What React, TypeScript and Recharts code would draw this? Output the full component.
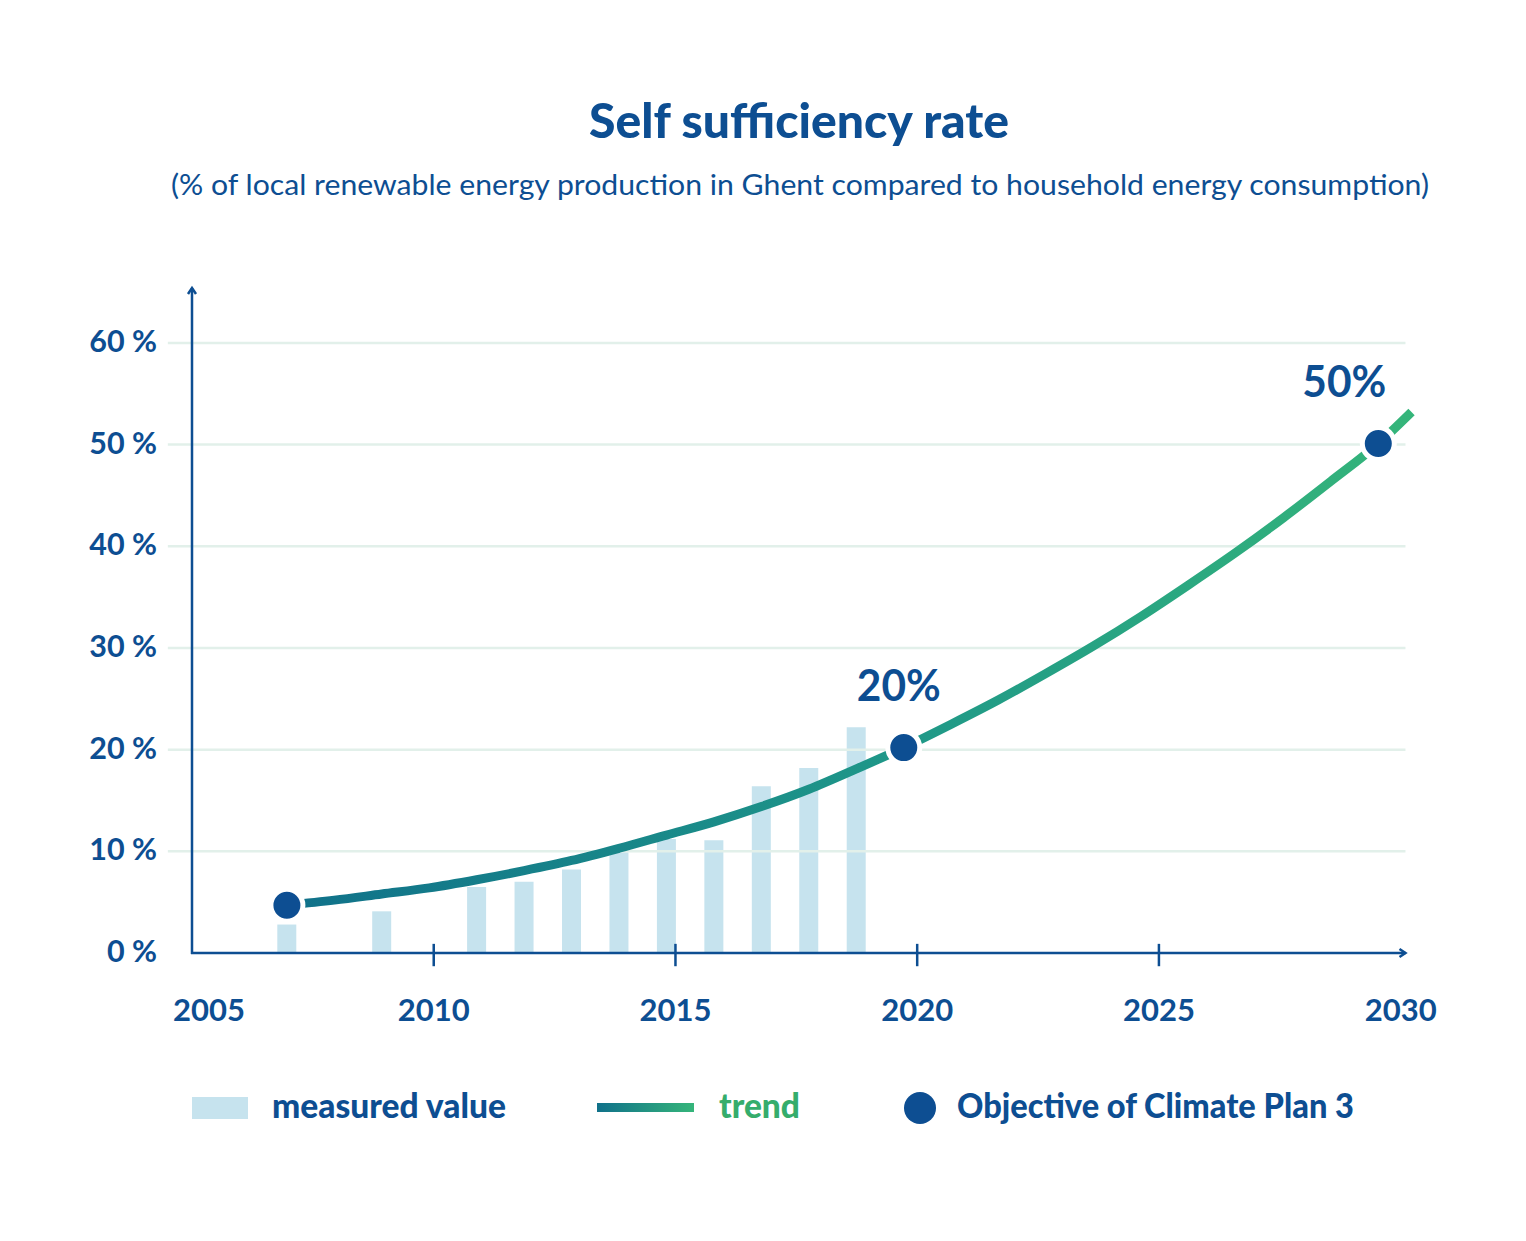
import {
  ComposedChart,
  Bar,
  Line,
  Scatter,
  XAxis,
  YAxis,
  ReferenceLine,
} from "recharts";

const BLUE = "#0d4e92";
const BAR_COLOR = "#c6e3ee";
const GRID_COLOR = "#e2f0ea";
const GREEN = "#35ad6c";
const FONT = "Lato, 'Noto Sans', sans-serif";

const MEASURED_YEARS = [2007, 2009, 2011, 2012, 2013, 2014, 2015, 2016, 2017, 2018, 2019];
const MEASURED_VALUES = [2.8, 4.1, 6.5, 7.0, 8.2, 9.9, 11.2, 11.1, 16.4, 18.2, 22.2];

const TREND_YEARS = [
  2007, 2008, 2009, 2010, 2011, 2012, 2013, 2014, 2015, 2016, 2017, 2018, 2019,
  2020, 2021, 2022, 2023, 2024, 2025, 2026, 2027, 2028, 2029, 2030, 2030.7,
];
const TREND_VALUES = [
  4.7, 5.2, 5.8, 6.4, 7.2, 8.1, 9.1, 10.3, 11.6, 12.9, 14.4, 16.1, 18.1,
  20.2, 22.5, 24.9, 27.5, 30.2, 33.1, 36.2, 39.4, 42.8, 46.4, 50.1, 53.2,
];

const OBJECTIVE_YEARS = [2007, 2020, 2030];
const OBJECTIVE_VALUES = [4.7, 20.2, 50.1];
const OBJECTIVE_LABELS = ["", "20%", "50%"];

const X_TICKS = [2005, 2010, 2015, 2020, 2025, 2030];
const X_TICK_MARKS = [2010, 2015, 2020, 2025];
const Y_TICKS = [0, 10, 20, 30, 40, 50, 60];
const GRID_VALUES = [10, 20, 30, 40, 50, 60];

const measuredData = MEASURED_YEARS.map((year, i) => ({ year, measured: MEASURED_VALUES[i] }));
const trendData = TREND_YEARS.map((year, i) => ({ year, trend: TREND_VALUES[i] }));
const objectiveData = OBJECTIVE_YEARS.map((year, i) => ({
  year,
  objective: OBJECTIVE_VALUES[i],
  label: OBJECTIVE_LABELS[i],
}));

// label nudges for the objective values (the last one sits left of its dot)
const LABEL_DX = [0, -5, -34];

const renderXTick = (props: any) => {
  const { x, y, payload } = props;
  const dx = payload.value === 2005 ? 17 : 0;
  return (
    <text
      x={x + dx}
      y={y + 38}
      textAnchor="middle"
      fill={BLUE}
      fontFamily={FONT}
      fontWeight={700}
      fontSize={31}
    >
      {payload.value}
    </text>
  );
};

const renderYTick = (props: any) => {
  const { x, y, payload } = props;
  return (
    <text
      x={x - 35}
      y={y + 9}
      textAnchor="end"
      fill={BLUE}
      fontFamily={FONT}
      fontWeight={700}
      fontSize={30.5}
    >
      {payload.value} %
    </text>
  );
};

const VArrow = (props: any) => {
  const { x1, y1, x2, y2 } = props;
  const top = Math.min(y1, y2);
  const bottom = Math.max(y1, y2);
  return (
    <g stroke={BLUE} strokeWidth={2.5} fill="none">
      <line x1={x1} y1={bottom + 1} x2={x2} y2={top} />
      <polyline points={`${x1 - 4},${top + 6} ${x1},${top} ${x1 + 4},${top + 6}`} />
    </g>
  );
};

const HArrow = (props: any) => {
  const { x1, y1, x2 } = props;
  const right = Math.max(x1, x2);
  return (
    <g stroke={BLUE} strokeWidth={2.5} fill="none">
      <line x1={Math.min(x1, x2) - 1} y1={y1} x2={right} y2={y1} />
      <polyline points={`${right - 6},${y1 - 4} ${right},${y1} ${right - 6},${y1 + 4}`} />
    </g>
  );
};

const ObjectiveDot = (props: any) => {
  const { cx, cy, payload, index } = props;
  return (
    <g>
      <circle cx={cx} cy={cy} r={16} fill={BLUE} stroke="#fff" strokeWidth={5} />
      {payload.label ? (
        <text
          x={cx + (LABEL_DX[index] ?? 0)}
          y={cy - 47}
          textAnchor="middle"
          fill={BLUE}
          fontFamily={FONT}
          fontWeight={700}
          fontSize={44}
          textLength={84}
          lengthAdjust="spacingAndGlyphs"
        >
          {payload.label}
        </text>
      ) : null}
    </g>
  );
};

export default function App() {
  return (
    <div style={{ position: "absolute", left: 0, top: 0, width: 1526, height: 1241, background: "#fff" }}>
      <svg width={1526} height={1241} style={{ position: "absolute", left: 0, top: 0 }}>
        <defs>
          <linearGradient id="legendGrad" x1="0" y1="0" x2="1" y2="0">
            <stop offset="0%" stopColor="#10718a" />
            <stop offset="100%" stopColor="#35b57a" />
          </linearGradient>
        </defs>
        <text
          x={799}
          y={138}
          textAnchor="middle"
          fill={BLUE}
          fontFamily={FONT}
          fontWeight={900}
          fontSize={48}
          textLength={420}
          lengthAdjust="spacingAndGlyphs"
        >
          Self sufficiency rate
        </text>
        <text
          x={800}
          y={195}
          textAnchor="middle"
          fill={BLUE}
          fontFamily={FONT}
          fontSize={28}
          textLength={1258}
          lengthAdjust="spacingAndGlyphs"
        >
          (% of local renewable energy production in Ghent compared to household energy consumption)
        </text>

        <rect x={192} y={1097} width={56} height={22} fill={BAR_COLOR} />
        <text x={272} y={1118} fill={BLUE} fontFamily={FONT} fontWeight={900} fontSize={34}
          textLength={234} lengthAdjust="spacingAndGlyphs">
          measured value
        </text>
        <rect x={597} y={1103} width={97} height={9} fill="url(#legendGrad)" />
        <text x={719} y={1118} fill={GREEN} fontFamily={FONT} fontWeight={900} fontSize={34}
          textLength={81} lengthAdjust="spacingAndGlyphs">
          trend
        </text>
        <circle cx={920} cy={1108} r={16} fill={BLUE} />
        <text x={957} y={1118} fill={BLUE} fontFamily={FONT} fontWeight={900} fontSize={34}
          textLength={397} lengthAdjust="spacingAndGlyphs">
          Objective of Climate Plan 3
        </text>
      </svg>

      <div style={{ position: "absolute", left: 0, top: 0 }}>
        <ComposedChart
          width={1526}
          height={1241}
          data={measuredData}
          margin={{ top: 288, right: 77, bottom: 228, left: 132 }}
        >
          <defs>
            <linearGradient id="trendGrad" x1="0" y1="0" x2="1" y2="0">
              <stop offset="0%" stopColor="#10718a" />
              <stop offset="55%" stopColor="#1f9888" />
              <stop offset="100%" stopColor="#35b57a" />
            </linearGradient>
          </defs>
          {/* the data layer of the original runs on a slightly tighter year scale than its labelled axis */}
          <XAxis
            xAxisId="data"
            dataKey="year"
            type="number"
            domain={[2005, 2031.49]}
            hide
          />
          <XAxis
            xAxisId="ticks"
            dataKey="year"
            type="number"
            domain={[2005, 2031]}
            ticks={X_TICKS}
            height={60}
            axisLine={false}
            tickLine={false}
            tickSize={0}
            tickMargin={0}
            tick={renderXTick}
            interval={0}
          />
          <YAxis
            type="number"
            domain={[0, 65.4]}
            ticks={Y_TICKS}
            width={60}
            axisLine={false}
            tickLine={false}
            tickSize={0}
            tickMargin={0}
            tick={renderYTick}
            interval={0}
          />
          {GRID_VALUES.map((v) => (
            <ReferenceLine
              key={`grid-${v}`}
              xAxisId="ticks"
              segment={[{ x: 2004.5, y: v }, { x: 2030.1, y: v }]}
              stroke={GRID_COLOR}
              strokeWidth={2.5}
              ifOverflow="visible"
            />
          ))}
          <Bar xAxisId="data" dataKey="measured" fill={BAR_COLOR} barSize={19} isAnimationActive={false} />
          <ReferenceLine
            xAxisId="ticks"
            segment={[{ x: 2005, y: 0 }, { x: 2005, y: 65.4 }]}
            shape={<VArrow />}
            ifOverflow="visible"
          />
          <ReferenceLine
            xAxisId="ticks"
            segment={[{ x: 2005, y: 0 }, { x: 2030.1, y: 0 }]}
            shape={<HArrow />}
            ifOverflow="visible"
          />
          {X_TICK_MARKS.map((t) => (
            <ReferenceLine
              key={`tick-${t}`}
              xAxisId="ticks"
              segment={[{ x: t, y: 0.9 }, { x: t, y: -1.3 }]}
              stroke={BLUE}
              strokeWidth={2.5}
              ifOverflow="visible"
            />
          ))}
          <Line
            xAxisId="data"
            data={trendData}
            dataKey="trend"
            type="monotone"
            stroke="url(#trendGrad)"
            strokeWidth={9}
            dot={false}
            activeDot={false}
            isAnimationActive={false}
          />
          <Scatter
            xAxisId="data"
            data={objectiveData}
            dataKey="objective"
            shape={<ObjectiveDot />}
            isAnimationActive={false}
          />
        </ComposedChart>
      </div>
    </div>
  );
}
